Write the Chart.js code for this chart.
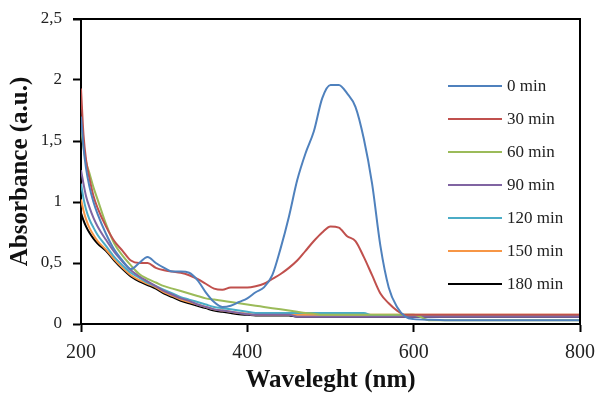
<!DOCTYPE html>
<html>
<head>
<meta charset="utf-8">
<script src="https://cdn.jsdelivr.net/npm/chart.js@4/dist/chart.umd.min.js"></script>
<style>
  html, body { margin: 0; padding: 0; background: #fff; }
  #wrap { width: 598px; height: 393px; position: relative; }
</style>
</head>
<body>
<div id="wrap"><canvas id="c" width="598" height="393"></canvas></div>
<script>
// ---- data ----
const wavelengths = [200,203,206,210,215,220,230,240,250,260,270,280,290,300,310,320,330,340,350,360,370,380,390,400,410,420,430,440,450,460,470,480,490,500,510,520,530,540,550,560,570,580,590,600,620,650,700,750,800];

const seriesLabels = ['0 min','30 min','60 min','90 min','120 min','150 min','180 min'];

const abs0 =   [1.70,1.45,1.28,1.13,1.00,0.90,0.74,0.61,0.52,0.45,0.50,0.55,0.50,0.46,0.43,0.43,0.42,0.36,0.26,0.18,0.14,0.15,0.18,0.21,0.26,0.30,0.40,0.62,0.88,1.18,1.40,1.58,1.85,1.96,1.96,1.89,1.78,1.52,1.15,0.64,0.30,0.14,0.06,0.04,0.035,0.03,0.03,0.03,0.03];
const abs30 =  [1.93,1.55,1.35,1.20,1.05,0.95,0.80,0.68,0.60,0.52,0.50,0.50,0.46,0.44,0.43,0.42,0.40,0.37,0.33,0.29,0.28,0.30,0.30,0.30,0.31,0.33,0.37,0.41,0.46,0.52,0.60,0.68,0.75,0.80,0.79,0.72,0.68,0.55,0.40,0.25,0.17,0.11,0.075,0.075,0.075,0.075,0.075,0.075,0.075];
const abs60 =  [1.61,1.45,1.33,1.24,1.12,1.02,0.82,0.66,0.56,0.48,0.41,0.37,0.34,0.31,0.29,0.27,0.25,0.23,0.21,0.20,0.19,0.18,0.17,0.16,0.15,0.14,0.13,0.12,0.11,0.10,0.09,0.085,0.075,0.075,0.075,0.075,0.075,0.075,0.075,0.075,0.075,0.075,0.075,0.075,0.03,0.03,0.03,0.03,0.03];
const abs90 =  [1.26,1.15,1.05,0.96,0.87,0.80,0.69,0.59,0.51,0.44,0.39,0.35,0.31,0.27,0.24,0.21,0.19,0.16,0.14,0.12,0.11,0.10,0.09,0.08,0.075,0.075,0.075,0.075,0.075,0.06,0.06,0.06,0.06,0.06,0.06,0.06,0.06,0.06,0.06,0.06,0.06,0.06,0.06,0.06,0.06,0.06,0.06,0.06,0.06];
const abs120 = [1.15,1.03,0.94,0.86,0.79,0.73,0.64,0.55,0.48,0.42,0.38,0.34,0.31,0.28,0.25,0.22,0.20,0.18,0.16,0.14,0.13,0.12,0.11,0.10,0.09,0.09,0.09,0.09,0.09,0.09,0.09,0.09,0.09,0.09,0.09,0.09,0.09,0.09,0.07,0.07,0.07,0.07,0.07,0.07,0.07,0.07,0.07,0.07,0.07];
const abs150 = [1.02,0.93,0.86,0.79,0.73,0.68,0.61,0.53,0.46,0.40,0.36,0.33,0.30,0.26,0.23,0.20,0.18,0.16,0.14,0.12,0.11,0.10,0.09,0.085,0.075,0.075,0.075,0.075,0.075,0.075,0.075,0.075,0.075,0.075,0.075,0.075,0.075,0.075,0.075,0.075,0.075,0.075,0.075,0.075,0.075,0.075,0.075,0.075,0.075];
const abs180 = [0.91,0.85,0.80,0.75,0.70,0.66,0.60,0.52,0.45,0.39,0.35,0.32,0.29,0.25,0.22,0.19,0.17,0.15,0.13,0.11,0.10,0.09,0.08,0.075,0.07,0.07,0.07,0.07,0.07,0.06,0.06,0.06,0.06,0.06,0.06,0.06,0.06,0.06,0.06,0.06,0.06,0.06,0.06,0.06,0.06,0.06,0.06,0.06,0.06];

const xTickValues = [200, 400, 600, 800];
const yTickValues = [0, 0.5, 1, 1.5, 2, 2.5];
const yTickLabels = ['0', '0,5', '1', '1,5', '2', '2,5'];

const xTitle = 'Waveleght (nm)';
const yTitle = 'Absorbance (a.u.)';

// ---- chart ----
const allSeries = [abs0, abs30, abs60, abs90, abs120, abs150, abs180];
const colors = ['#4F81BD', '#C0504D', '#9BBB59', '#8064A2', '#4BACC6', '#F79646', '#000000'];
const SERIF = '"Liberation Serif", "Times New Roman", serif';

const datasets = allSeries.map((vals, i) => ({
  label: seriesLabels[i],
  data: wavelengths.map((w, k) => ({ x: w, y: vals[k] })),
  borderColor: colors[i],
  backgroundColor: colors[i],
  borderWidth: 2,
  pointRadius: 0,
  fill: false,
  cubicInterpolationMode: 'monotone'
}));

const frameAndLegend = {
  id: 'frameAndLegend',
  afterDatasetsDraw(chart) {
    const { ctx, chartArea: a } = chart;
    ctx.save();
    // top & right frame
    ctx.strokeStyle = '#000';
    ctx.lineWidth = 2;
    ctx.beginPath();
    ctx.moveTo(a.left - 8, a.top);
    ctx.lineTo(a.right, a.top);
    ctx.lineTo(a.right, a.bottom);
    ctx.stroke();
    // legend
    const x0 = 448, x1 = 502, tx = 507;
    const y0 = 86, dy = 33;
    ctx.font = '17px ' + SERIF;
    ctx.textBaseline = 'middle';
    ctx.textAlign = 'left';
    chart.data.datasets.forEach((ds, i) => {
      const y = y0 + i * dy;
      ctx.strokeStyle = ds.borderColor;
      ctx.lineWidth = 2;
      ctx.beginPath();
      ctx.moveTo(x0, y);
      ctx.lineTo(x1, y);
      ctx.stroke();
      ctx.fillStyle = '#222';
      ctx.fillText(ds.label, tx, y + 1);
    });
    ctx.restore();
  }
};

new Chart(document.getElementById('c'), {
  type: 'line',
  data: { datasets },
  options: {
    responsive: false,
    animation: false,
    layout: { padding: { top: 19, right: 18, left: 0, bottom: 0 } },
    plugins: { legend: { display: false }, tooltip: { enabled: false } },
    scales: {
      x: {
        type: 'linear',
        min: 200, max: 800,
        afterFit(s) { s.height = 69; s.paddingLeft = 0; s.paddingRight = 0; },
        afterBuildTicks(s) { s.ticks = xTickValues.map(v => ({ value: v })); },
        ticks: { color: '#222', font: { family: SERIF, size: 20 }, padding: 9, maxRotation: 0 },
        grid: { display: true, drawOnChartArea: false, drawTicks: true, tickLength: 8, tickColor: '#000', tickWidth: 2 },
        border: { display: true, color: '#000', width: 2 },
        title: { display: true, text: xTitle, color: '#111', font: { family: SERIF, size: 25, weight: 'bold', lineHeight: 1 }, padding: { top: 0, bottom: 0 } }
      },
      y: {
        type: 'linear',
        min: 0, max: 2.5,
        afterFit(s) { s.width = 81; s.paddingTop = 0; s.paddingBottom = 0; },
        afterBuildTicks(s) { s.ticks = yTickValues.map(v => ({ value: v })); },
        ticks: {
          color: '#222', font: { family: SERIF, size: 17 }, padding: 11,
          callback: (v) => { const i = yTickValues.indexOf(v); return i >= 0 ? yTickLabels[i] : ''; }
        },
        grid: { display: true, drawOnChartArea: false, drawTicks: true, tickLength: 8, tickColor: '#000', tickWidth: 2 },
        border: { display: true, color: '#000', width: 2 },
        title: { display: true, text: yTitle, color: '#111', font: { family: SERIF, size: 25, weight: 'bold' }, padding: { top: 6, bottom: 0 } }
      }
    }
  },
  plugins: [frameAndLegend]
});
</script>
</body>
</html>
